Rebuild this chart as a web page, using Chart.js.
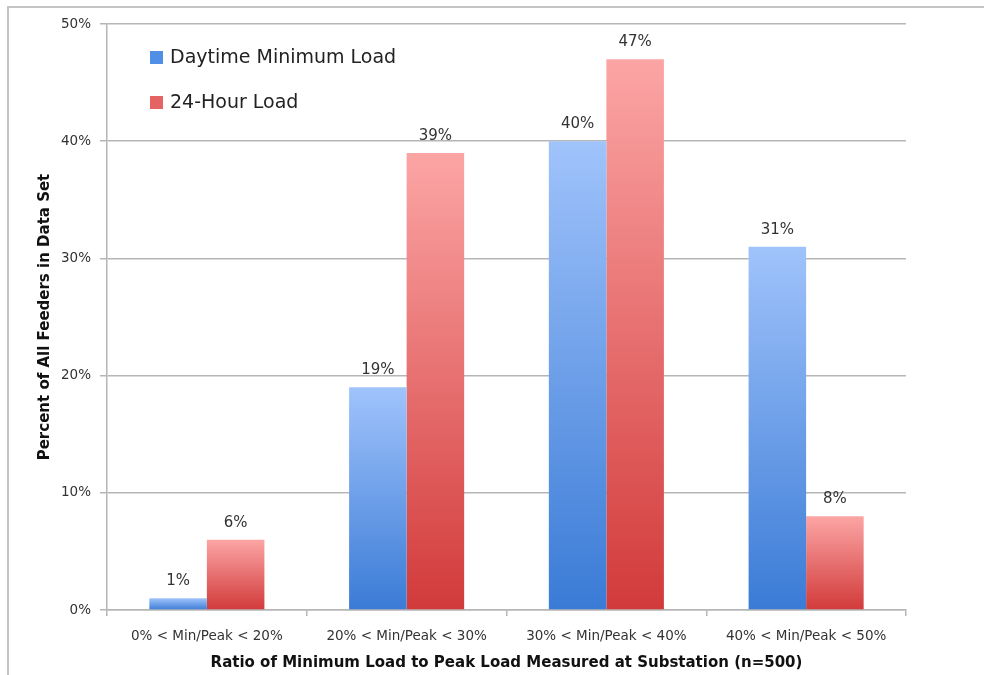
<!DOCTYPE html>
<html>
<head>
<meta charset="utf-8">
<script src="https://cdn.jsdelivr.net/npm/chart.js@4"></script>
<style>
  html, body { margin: 0; padding: 0; background: #fff; overflow: hidden; }
  #wrap { width: 984px; height: 675px; position: relative; }
</style>
</head>
<body>
<div id="wrap"><canvas id="chart"></canvas></div>
<script>
// chart data
const categories = ['0% < Min/Peak < 20%', '20% < Min/Peak < 30%', '30% < Min/Peak < 40%', '40% < Min/Peak < 50%'];
const daytimeMinLoad = [1, 19, 40, 31];
const hourLoad24 = [6, 39, 47, 8];
const seriesNames = ['Daytime Minimum Load', '24-Hour Load'];
const yTicks = [0, 10, 20, 30, 40, 50];

const FONT = '"DejaVu Sans", "Liberation Sans", sans-serif';
const GRID = '#b6b6b6';

// gradient per bar, light at the top, dark at the base
function barGradient(top, bottom) {
  return function(ctx) {
    const chart = ctx.chart;
    const y = chart.scales.y;
    if (!chart.chartArea || !y || ctx.raw === undefined) return bottom;
    const yTop = y.getPixelForValue(ctx.raw);
    const yBase = y.getPixelForValue(0);
    if (!isFinite(yTop) || !isFinite(yBase) || yTop === yBase) return bottom;
    const g = chart.ctx.createLinearGradient(0, yTop, 0, yBase);
    g.addColorStop(0, top);
    g.addColorStop(1, bottom);
    return g;
  };
}

// frame around the picture (left and top edges only)
const framePlugin = {
  id: 'frame',
  beforeDraw(chart) {
    const c = chart.ctx;
    c.save();
    c.fillStyle = '#c4c4c4';
    c.fillRect(7, 6, 2, chart.height - 6);
    c.fillRect(7, 6, chart.width - 7, 2);
    c.restore();
  }
};

// value labels above bars
const valueLabels = {
  id: 'valueLabels',
  afterDatasetsDraw(chart) {
    const c = chart.ctx;
    c.save();
    c.font = '15px ' + FONT;
    c.fillStyle = '#333';
    c.textAlign = 'center';
    c.textBaseline = 'middle';
    chart.data.datasets.forEach((ds, i) => {
      chart.getDatasetMeta(i).data.forEach((bar, j) => {
        c.fillText(ds.data[j] + '%', bar.x, bar.y - 17);
      });
    });
    c.restore();
  }
};

// legend drawn inside the plot area
const insideLegend = {
  id: 'insideLegend',
  afterDraw(chart) {
    const c = chart.ctx;
    const swatch = ['#4f8fe6', '#e66363'];
    c.save();
    c.font = '19px ' + FONT;
    c.textBaseline = 'middle';
    chart.data.datasets.forEach((ds, i) => {
      const y = 57 + i * 45;
      c.fillStyle = swatch[i];
      c.fillRect(150, y - 6, 13, 13);
      c.fillStyle = '#222';
      c.fillText(ds.label, 170, y + 1);
    });
    c.restore();
  }
};

new Chart(document.getElementById('chart'), {
  type: 'bar',
  data: {
    labels: categories,
    datasets: [
      {
        label: seriesNames[0],
        data: daytimeMinLoad,
        backgroundColor: barGradient('#a0c3fb', '#3a7bd6')
      },
      {
        label: seriesNames[1],
        data: hourLoad24,
        backgroundColor: barGradient('#fca5a5', '#d23a3a')
      }
    ]
  },
  options: {
    responsive: true,
    maintainAspectRatio: false,
    animation: false,
    devicePixelRatio: 1,
    categoryPercentage: 0.576,
    barPercentage: 1.0,
    layout: { padding: { left: 0, top: 24, right: 78, bottom: 0 } },
    plugins: {
      legend: { display: false },
      tooltip: { enabled: false }
    },
    scales: {
      x: {
        grid: { display: true, drawOnChartArea: false, color: GRID, lineWidth: 1.5, tickLength: 6, offset: true },
        border: { color: GRID, width: 1.5 },
        ticks: { color: '#333', font: { family: FONT, size: 13.5 }, padding: 12, maxRotation: 0 },
        title: {
          display: true,
          text: 'Ratio of Minimum Load to Peak Load Measured at Substation (n=500)',
          color: '#111',
          font: { family: FONT, size: 15, weight: 'bold' },
          padding: { top: 4, bottom: 3 }
        },
        afterFit(scale) { scale.height = 65; }
      },
      y: {
        min: 0,
        max: 50,
        afterBuildTicks(scale) { scale.ticks = yTicks.map(v => ({ value: v })); },
        grid: { color: GRID, lineWidth: 1.5, tickLength: 7 },
        border: { color: GRID, width: 1.5 },
        ticks: {
          color: '#333',
          font: { family: FONT, size: 13.5 },
          padding: 9,
          callback: v => v + '%'
        },
        title: {
          display: true,
          text: 'Percent of All Feeders in Data Set',
          color: '#111',
          font: { family: FONT, size: 15, weight: 'bold' },
          padding: { top: 36, bottom: 0 }
        },
        afterFit(scale) { scale.width = 107; }
      }
    }
  },
  plugins: [framePlugin, valueLabels, insideLegend]
});
</script>
</body>
</html>
